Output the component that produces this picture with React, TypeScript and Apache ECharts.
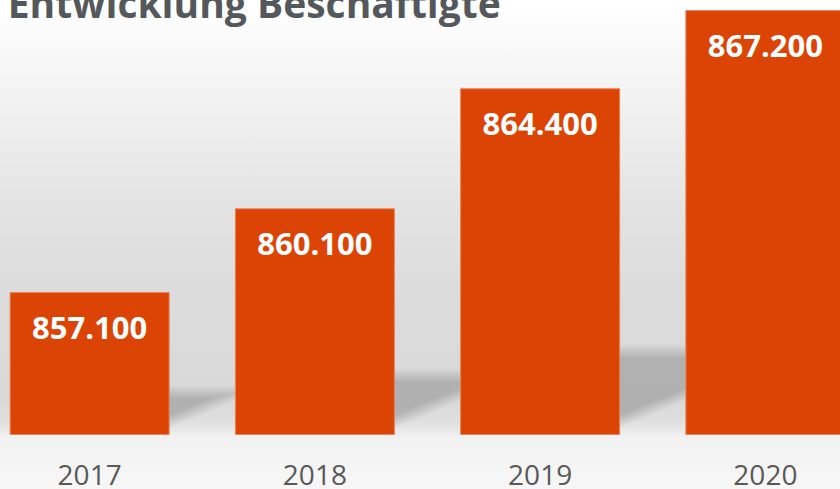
import React, { useEffect, useRef } from "react";
import * as echarts from "echarts";

const title = "Entwicklung Beschäftigte";
const categories = ["2017", "2018", "2019", "2020"];
const values = [857100, 860100, 864400, 867200];
const axisMin = 852000;
const axisMax = 867500;

const fmt = (v: number) => String(Math.round(v)).replace(/\B(?=(\d{3})+(?!\d))/g, ".");

const OFFSET_X = 22.7;
const CHART_W = 901.3;

export default function App() {
  const ref = useRef<HTMLDivElement>(null);
  useEffect(() => {
    if (!ref.current) return;
    const chart = echarts.init(ref.current, undefined, { renderer: "svg" });
    const BAR_W = 160;
    chart.setOption({
      animation: false,
      backgroundColor: "transparent",
      title: {
        text: title,
        left: OFFSET_X + 3,
        top: -22,
        textStyle: {
          fontFamily: "Open Sans",
          fontWeight: "bold",
          fontSize: 39,
          color: "#54585c",
        },
      },
      grid: { left: 0, right: 0, top: 1.7, bottom: 54.5, containLabel: false },
      xAxis: {
        type: "category",
        data: categories,
        axisLine: { show: false },
        axisTick: { show: false },
        axisLabel: {
          margin: 25,
          fontFamily: "Open Sans",
          fontSize: 28,
          lineHeight: 28,
          color: "#595959",
        },
      },
      yAxis: {
        type: "value",
        min: axisMin,
        max: axisMax,
        show: false,
        splitLine: { show: false },
      },
      series: [
        {
          type: "custom",
          z: 1,
          silent: true,
          data: values.map((v, i) => [i, v]),
          renderItem: (params: any, api: any) => {
            const idx = api.value(0);
            const base = api.coord([idx, axisMin]);
            const top = api.coord([idx, api.value(1)]);
            const H = base[1] - top[1];
            const xr = base[0] + BAR_W / 2 - 2;
            const k = 0.2 * H + 14;
            const slope = 0.42;
            const layers = [-6, -4, -2, 0, 2, 4, 6];
            return {
              type: "group",
              children: layers.map((d) => {
                const yb = base[1] - 12 - d;
                const yt = base[1] - k + d;
                const len = Math.max(0, (yb - yt) / slope);
                return {
                  type: "polygon",
                  shape: {
                    points: [
                      [xr, yb],
                      [xr, yt],
                      [xr + len, yt],
                    ],
                  },
                  style: { fill: "rgba(0,0,0,0.026)" },
                };
              }),
            };
          },
        },
        {
          type: "bar",
          z: 2,
          data: values,
          barWidth: BAR_W,
          itemStyle: { color: "#dc4405", borderColor: "#e8835a", borderWidth: 1 },
          label: {
            show: true,
            position: "insideTop",
            distance: 19,
            formatter: (p: any) => fmt(p.value),
            fontFamily: "Open Sans",
            fontWeight: "bold",
            fontSize: 31,
            color: "#ffffff",
          },
        },
      ],
    });
    return () => chart.dispose();
  }, []);
  return (
    <div
      style={{
        position: "absolute",
        left: 0,
        top: 0,
        width: 840,
        height: 489,
        overflow: "hidden",
        background:
          "linear-gradient(to bottom, #ffffff 0px, #f6f6f6 70px, #efefef 120px, #e4e4e4 200px, #dcdcdc 290px, #d9d9d9 400px, #dedede 420px, #e9e9e9 431px, #f1f1f1 436px, #f4f4f4 460px, #f7f7f7 489px)",
      }}
    >
      <div
        ref={ref}
        style={{ position: "absolute", left: -OFFSET_X, top: 0, width: CHART_W, height: 489 }}
      />
    </div>
  );
}
